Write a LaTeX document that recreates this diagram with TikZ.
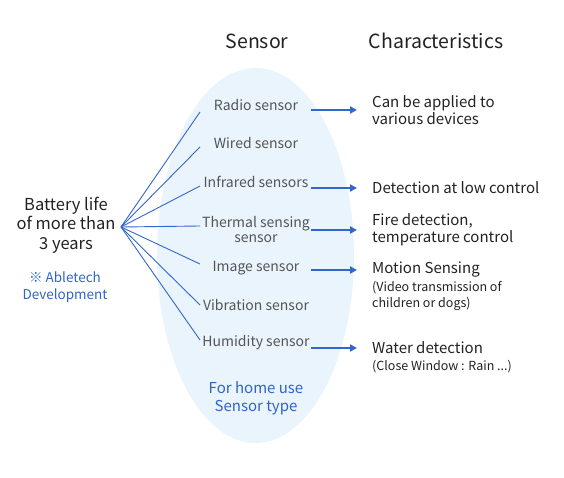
\documentclass[tikz,border=0pt]{standalone}
\usepackage{fontspec}
\setmainfont{Noto Sans CJK KR}
\usetikzlibrary{
  positioning,
  arrows.meta
}
\definecolor{lineblue}{HTML}{3366CC}
\definecolor{textblue}{HTML}{2F64C8}
\definecolor{eggfill}{HTML}{EAF4FD}
\definecolor{sensorgray}{HTML}{555555}
\definecolor{darktext}{HTML}{222222}
\tikzset{
  >={Triangle[length=7pt,width=7pt]},
  head/.style = {
    font=\fontsize{19.5}{22}\selectfont, text=darktext
  },
  sens/.style = {
    font=\fontsize{14}{15}\selectfont, text=sensorgray, align=center, inner sep=1pt
  },
  chr/.style = {
    font=\fontsize{15}{17}\selectfont, text=darktext, align=left, anchor=west, inner sep=0pt
  },
  sub/.style = {
    chr, font=\fontsize{12.5}{16}\selectfont
  },
  fan/.style = {
    draw=lineblue, line width=0.9pt
  },
  arr/.style = {
    draw=lineblue, line width=2pt, ->
  }
}

\begin{document}
\begin{tikzpicture}[x=1pt, y=-1pt]
  \useasboundingbox (0,0) rectangle (564,478);
  \fill [eggfill] (255.5,255.5) ellipse [x radius=98.5, y radius=187.5];
  \path
    (257,41) node [head] (hsens) {Sensor}
    (436,41) node [head] (hchar) {Characteristics}
    (66,225) node [font=\fontsize{16.5}{19.5}\selectfont, text=darktext, align=center] (battery)
      {Battery life\\of more than\\3 years}
    (65,287) node [font=\fontsize{13.5}{17}\selectfont, text=textblue, align=center] (devel)
      {※ Abletech\\Development}
    (121,227) coordinate (hub);
  % sensor types
  \path
    (256,105) node [sens] (radio) {Radio sensor}
    (256,143) node [sens] (wired) {Wired sensor}
    (256,182) node [sens] (infra) {Infrared sensors}
    (256,230) node [sens] (therm) {Thermal sensing\\sensor}
    (256,268) node [sens] (image) {Image sensor}
    (256,305) node [sens] (vibra) {Vibration sensor}
    (256,343) node [sens] (humid) {Humidity sensor}
    (256,398) node [sens, font=\fontsize{15}{18}\selectfont, text=textblue] (home)
      {For home use\\Sensor type};
  \foreach \y [count=\i] in {112,147,186,226,264,305,340} {
    \coordinate (f\i) at (200,\y);
    \draw [fan] (hub) -- (f\i);
  }
  % characteristics
  \path
    (372,110) node [chr] (capp) {Can be applied to\\various devices}
    (372,188) node [chr] (cdet) {Detection at low control}
    (372,230) node [chr] (cfire) {Fire detection,\\temperature control}
    (372,270) node [chr] (cmot) {Motion Sensing}
    (372,296) node [sub] (cmotsub) {(Video transmission of\\children or dogs)}
    (372,348) node [chr] (cwat) {Water detection}
    (372,367) node [sub] (cwatsub) {(Close Window : Rain ...)}
    (311,0) coordinate (tail);
  \foreach \c in {capp,cdet,cfire,cmot,cwat}
    \draw [arr] (tail |- \c.west) -- ([xshift=-15pt]\c.west);
\end{tikzpicture}
\end{document}
